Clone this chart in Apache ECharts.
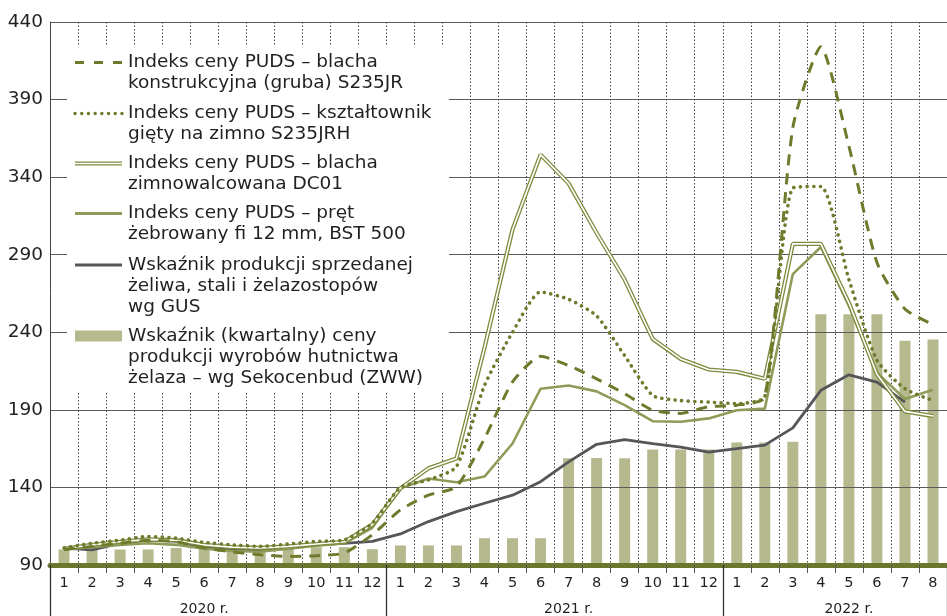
<!DOCTYPE html>
<html>
<head>
<meta charset="utf-8">
<script src="https://cdn.jsdelivr.net/npm/echarts@6/dist/echarts.min.js"></script>
<style>
  html, body { margin: 0; padding: 0; background: #fff; }
  #chart { width: 947px; height: 616px; }
</style>
</head>
<body>
<div id="chart"></div>
<script>
// months 2020-01 .. 2022-08
const months = ['1', '2', '3', '4', '5', '6', '7', '8', '9', '10', '11', '12',
  '1', '2', '3', '4', '5', '6', '7', '8', '9', '10', '11', '12',
  '1', '2', '3', '4', '5', '6', '7', '8'];
const years = ['2020 r.', '2021 r.', '2022 r.'];
const yearLabelIndex = [5, 18, 28];
const yearStartIndex = [0, 12, 24];

// Indeks ceny PUDS – blacha konstrukcyjna (gruba) S235JR
const plateHeavy = [100, 102, 104, 106, 105, 101, 98.5, 96.6, 95.5, 96, 97.7, 109.5,
  125.5, 135, 140.5, 171.5, 208, 224.5, 218.6, 210, 200.4, 189.8, 187.7, 192,
  193, 198, 372, 424, 360, 285, 255, 245];
// Indeks ceny PUDS – kształtownik gięty na zimno S235JRH
const coldProfile = [101, 104, 106, 108.4, 107.3, 104.6, 103, 102, 103.5, 105.2, 106.2, 117,
  140, 144.8, 153.4, 205.7, 240, 266, 261.3, 250.6, 225, 199.3, 196, 195,
  194, 198.5, 333, 334, 274, 222, 203.6, 196];
// Indeks ceny PUDS – blacha zimnowalcowana DC01
const coldSheet = [100.5, 103, 105, 106.5, 106, 103, 101.5, 101, 102, 103.5, 105, 116,
  139.4, 152.3, 158.7, 230, 306.3, 354.5, 336, 304, 274, 235.7, 222.8, 216,
  214.5, 210, 297, 297, 259, 213, 189, 186];
// Indeks ceny PUDS – pręt żebrowany fi 12 mm, BST 500
const rebar = [100, 101.5, 103, 104, 103, 100.5, 99, 98.5, 100.5, 102.5, 104, 114,
  139.4, 145.8, 143.3, 147, 168.3, 203.6, 205.7, 201.9, 193, 182.7, 182.3, 184.5,
  189.7, 190.8, 277.5, 295, 257, 214, 197, 203];
// Wskaźnik produkcji sprzedanej żeliwa, stali i żelazostopów wg GUS
const gus = [100.9, 99.8, 104, 106.2, 105.2, 101.3, 99.8, 99.4, 100.9, 103, 104, 105.2,
  110, 118, 124.4, 129.8, 135, 143.7, 156.5, 167.8, 170.8, 168.2, 166, 162.8,
  165, 167.3, 178.4, 202.6, 212.6, 207.9, 195, null];
// Wskaźnik (kwartalny) ceny produkcji wyrobów hutnictwa żelaza – wg Sekocenbud (ZWW)
const sekocenbud = [100, 100, 100, 100, 101, 100.5, 100.5, 100.5, 101, 101.5, 101.5, 100.2,
  102.6, 102.6, 102.6, 107.3, 107.3, 107.3, 158.8, 159, 158.8, 164.5, 164.5, 164.5,
  169, 169, 169.4, 251.7, 251.7, 251.7, 234.6, 235.3];

const legendNames = [
  'Indeks ceny PUDS – blacha\nkonstrukcyjna (gruba) S235JR',
  'Indeks ceny PUDS – kształtownik\ngięty na zimno S235JRH',
  'Indeks ceny PUDS – blacha\nzimnowalcowana DC01',
  'Indeks ceny PUDS – pręt\nżebrowany fi 12 mm, BST 500',
  'Wskaźnik produkcji sprzedanej\nżeliwa, stali i żelazostopów\nwg GUS',
  'Wskaźnik (kwartalny) ceny\nprodukcji wyrobów hutnictwa\nżelaza – wg Sekocenbud (ZWW)'
];

const OLIVE = '#6f7b2c';
const DOUBLE = '#7d8b3c';
const PLAIN = '#8e9c5a';
const DARK = '#55565a';
const BAR = '#b6b98e';
const BASE = '#6c772e';
const FONT = '"DejaVu Sans", sans-serif';

const chart = echarts.init(document.getElementById('chart'));

// legend drawn by hand (box hides the grid behind it)
const legendRows = [62.5, 113.5, 163.5, 213.5, 265, 336];
const legendItems = [
  {type: 'rect', z: 1, shape: {x: 67, y: 45, width: 382, height: 348}, style: {fill: '#fff'}}
];
const symX1 = 75, symX2 = 122;
legendRows.forEach(function (cy, i) {
  const line = {type: 'line', z: 5, shape: {x1: symX1, y1: cy, x2: symX2, y2: cy}};
  if (i === 0) {
    line.style = {stroke: OLIVE, lineWidth: 3, lineDash: [9, 10]};
    legendItems.push(line);
  } else if (i === 1) {
    line.style = {stroke: OLIVE, lineWidth: 3.4, lineDash: [0.1, 6.6], lineCap: 'round'};
    legendItems.push(line);
  } else if (i === 2) {
    line.style = {stroke: DOUBLE, lineWidth: 4.2};
    legendItems.push(line);
    legendItems.push({type: 'line', z: 6, shape: {x1: symX1, y1: cy, x2: symX2, y2: cy},
      style: {stroke: '#fff', lineWidth: 1.6}});
  } else if (i === 3) {
    line.style = {stroke: PLAIN, lineWidth: 2.8};
    legendItems.push(line);
  } else if (i === 4) {
    line.style = {stroke: DARK, lineWidth: 2.8};
    legendItems.push(line);
  } else {
    legendItems.push({type: 'rect', z: 5, shape: {x: symX1, y: cy - 5.5, width: symX2 - symX1, height: 11},
      style: {fill: BAR}});
  }
  legendItems.push({
    type: 'text', z: 5,
    style: {
      text: legendNames[i], x: 128, y: cy - 10.5,
      font: '18.5px ' + FONT, fill: '#231f20',
      lineHeight: 21, verticalAlign: 'top'
    }
  });
});

chart.setOption({
  animation: false,
  backgroundColor: '#fff',
  grid: {left: 50, right: -5, top: 22, bottom: 49},
  xAxis: [
    {
      type: 'category',
      data: months,
      boundaryGap: true,
      position: 'bottom',
      axisLine: {show: true, lineStyle: {color: BASE, width: 5}},
      axisTick: {show: true, length: 8, lineStyle: {color: '#555', width: 1}},
      axisLabel: {interval: 0, margin: 11, fontSize: 14.5, fontFamily: FONT, color: '#231f20'},
      splitLine: {show: true, interval: 0, lineStyle: {color: '#444', width: 1, type: [1.5, 2]}}
    },
    {
      type: 'category',
      data: months,
      boundaryGap: true,
      position: 'bottom',
      offset: 0,
      axisLine: {show: false},
      axisTick: {
        show: true, length: 52,
        interval: function (index) { return yearStartIndex.indexOf(index) >= 0; },
        lineStyle: {color: '#333', width: 1.3}
      },
      axisLabel: {
        interval: 0, margin: 37, fontSize: 14, fontFamily: FONT, color: '#231f20',
        formatter: function (v, index) {
          const k = yearLabelIndex.indexOf(index);
          return k >= 0 ? years[k] : '';
        }
      },
      splitLine: {show: false}
    }
  ],
  yAxis: {
    type: 'value',
    min: 90,
    max: 440,
    interval: 50,
    axisLine: {show: true, lineStyle: {color: '#444', width: 1}},
    axisTick: {show: false},
    axisLabel: {margin: 7, fontSize: 18.5, fontFamily: FONT, color: '#231f20'},
    splitLine: {show: true, lineStyle: {color: '#5a5a5a', width: 1}}
  },
  graphic: {elements: legendItems},
  series: [
    {
      type: 'bar', name: 'sekocenbud', data: sekocenbud, barWidth: 11, z: -1,
      itemStyle: {color: BAR}
    },
    {
      type: 'line', name: 'gus', data: gus, symbol: 'none', z: 2,
      lineStyle: {color: DARK, width: 2.8}
    },
    {
      type: 'line', name: 'rebar', data: rebar, symbol: 'none', z: 2,
      lineStyle: {color: PLAIN, width: 2.6}
    },
    {
      type: 'line', name: 'coldSheet', data: coldSheet, symbol: 'none', z: 2,
      lineStyle: {color: DOUBLE, width: 4.2}
    },
    {
      type: 'line', name: 'coldSheetInner', data: coldSheet, symbol: 'none', z: 2,
      lineStyle: {color: '#fff', width: 1.6}
    },
    {
      type: 'line', name: 'coldProfile', data: coldProfile, symbol: 'none', z: 2, smooth: 0.2,
      lineStyle: {color: OLIVE, width: 3.6, type: [0.1, 6.5], cap: 'round'}
    },
    {
      type: 'line', name: 'plateHeavy', data: plateHeavy, symbol: 'none', z: 2, smooth: 0.2,
      lineStyle: {color: OLIVE, width: 3, type: [11, 8]}
    }
  ]
});
</script>
</body>
</html>
